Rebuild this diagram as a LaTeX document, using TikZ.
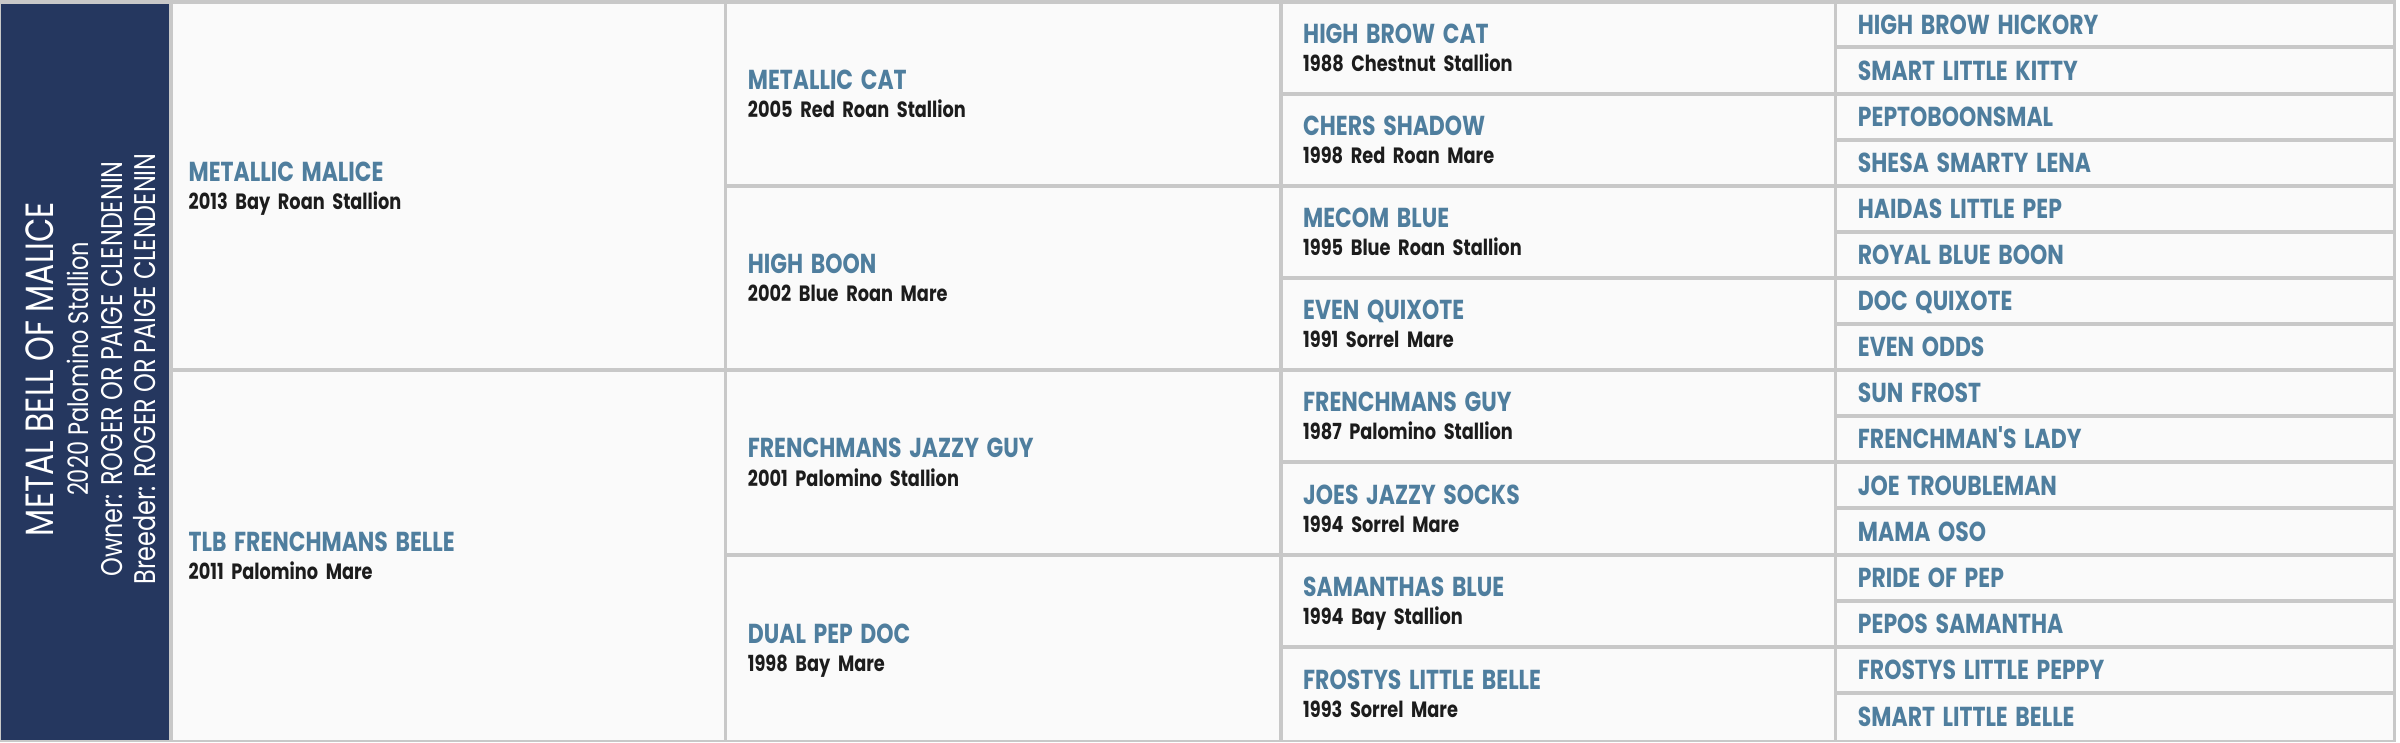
\documentclass[tikz,border=0pt]{standalone}
\usepackage{fontspec}
\usepackage{xcolor}
\usepackage{tikz}
\usetikzlibrary{positioning,calc}
\newfontfamily\namefont{Poppins}[FakeStretch=0.8]
\newfontfamily\sidefont{Poppins}[FakeStretch=0.8]
\definecolor{navy}{HTML}{25375F}
\definecolor{nameblue}{HTML}{4F7E9E}
\definecolor{descblack}{HTML}{1C1C1C}
\definecolor{linegrey}{HTML}{C8C8C8}
\definecolor{cellbg}{HTML}{FAFAFA}
\newcommand{\hname}[1]{{\namefont\bfseries\fontsize{7.8}{7.97}\selectfont\color{nameblue}\vphantom{H}\smash{#1}}}
\newcommand{\hdesc}[1]{{\namefont\bfseries\fontsize{6.3}{7.97}\selectfont\color{descblack}\smash{#1}}}
\newcommand{\horse}[2]{\hname{#1}\\\hdesc{#2}}
\tikzstyle{cell} = [rectangle, fill=cellbg, anchor=north west, inner ysep=0pt, align=left, font=\fontsize{6.5}{7.97}\selectfont]
\tikzstyle{sire} = [cell, inner xsep=0.16cm, text width=5.187cm]
\tikzstyle{gen} = [cell, inner xsep=0.205cm, text width=5.103cm]
\tikzstyle{far} = [cell, inner xsep=0.205cm, text width=5.143cm]
\tikzstyle{side} = [anchor=base, rotate=90, text=white, inner sep=0pt]

\begin{document}
\begin{tikzpicture}[x=0.01cm, y=-0.01cm]
    \useasboundingbox (0,0) rectangle (2400,742);
    \fill[linegrey] (0,0) rectangle (2396,742);

    % horse panel
    \node[rectangle, fill=navy, anchor=north west, inner sep=0pt, minimum width=1.68cm, minimum height=7.36cm] (panel) at (0,3) {};
    \node[side, font=\sidefont\fontsize{11.2}{12}\selectfont] (title) at (53,369) {METAL BELL OF MALICE};
    \node[side, font=\sidefont\fontsize{8}{10}\selectfont] (foal) at (88,369) {2020 Palomino Stallion};
    \node[side, font=\sidefont\fontsize{8.5}{10}\selectfont] (owner) at (122,369) {Owner: ROGER OR PAIGE CLENDENIN};
    \node[side, font=\sidefont\fontsize{8.5}{10}\selectfont] (breeder) at (155,369) {Breeder: ROGER OR PAIGE CLENDENIN};

    % parents
    \node[sire, minimum height=3.644cm] (s) at (172,3) {\horse{METALLIC MALICE}{2013 Bay Roan Stallion}};
    \node[sire, minimum height=3.676cm] (d) at (172,371.4) {\horse{TLB FRENCHMANS BELLE}{2011 Palomino Mare}};

    % grandparents
    \node[gen, minimum width=5.513cm, minimum height=1.80cm] (ss) at (726.7,3) {\horse{METALLIC CAT}{2005 Red Roan Stallion}};
    \node[gen, minimum width=5.513cm, minimum height=1.804cm] (sd) at (726.7,187.0) {\horse{HIGH BOON}{2002 Blue Roan Mare}};
    \node[gen, minimum width=5.513cm, minimum height=1.804cm] (ds) at (726.7,371.4) {\horse{FRENCHMANS JAZZY GUY}{2001 Palomino Stallion}};
    \node[gen, minimum width=5.513cm, minimum height=1.832cm] (dd) at (726.7,555.8) {\horse{DUAL PEP DOC}{1998 Bay Mare}};

    % great grandparents
    \node[gen, minimum height=0.878cm] (sss) at (1282,3) {\horse{HIGH BROW CAT}{1988 Chestnut Stallion}};
    \node[gen, minimum height=0.882cm] (ssd) at (1282,94.8) {\horse{CHERS SHADOW}{1998 Red Roan Mare}};
    \node[gen, minimum height=0.882cm] (sds) at (1282,187.0) {\horse{MECOM BLUE}{1995 Blue Roan Stallion}};
    \node[gen, minimum height=0.882cm] (sdd) at (1282,279.2) {\horse{EVEN QUIXOTE}{1991 Sorrel Mare}};
    \node[gen, minimum height=0.882cm] (dss) at (1282,371.4) {\horse{FRENCHMANS GUY}{1987 Palomino Stallion}};
    \node[gen, minimum height=0.882cm] (dsd) at (1282,463.6) {\horse{JOES JAZZY SOCKS}{1994 Sorrel Mare}};
    \node[gen, minimum height=0.882cm] (dds) at (1282,555.8) {\horse{SAMANTHAS BLUE}{1994 Bay Stallion}};
    \node[gen, minimum height=0.910cm] (ddd) at (1282,648.0) {\horse{FROSTYS LITTLE BELLE}{1993 Sorrel Mare}};

    % fourth generation
    \node[far, minimum height=0.417cm] (f1) at (1836.7,3) {\hname{HIGH BROW HICKORY}};
    \node[far, minimum height=0.421cm] (f2) at (1836.7,48.7) {\hname{SMART LITTLE KITTY}};
    \node[far, minimum height=0.421cm] (f3) at (1836.7,94.8) {\hname{PEPTOBOONSMAL}};
    \node[far, minimum height=0.421cm] (f4) at (1836.7,140.9) {\hname{SHESA SMARTY LENA}};
    \node[far, minimum height=0.421cm] (f5) at (1836.7,187.0) {\hname{HAIDAS LITTLE PEP}};
    \node[far, minimum height=0.421cm] (f6) at (1836.7,233.1) {\hname{ROYAL BLUE BOON}};
    \node[far, minimum height=0.421cm] (f7) at (1836.7,279.2) {\hname{DOC QUIXOTE}};
    \node[far, minimum height=0.421cm] (f8) at (1836.7,325.3) {\hname{EVEN ODDS}};
    \node[far, minimum height=0.421cm] (f9) at (1836.7,371.4) {\hname{SUN FROST}};
    \node[far, minimum height=0.421cm] (f10) at (1836.7,417.5) {\hname{FRENCHMAN'S LADY}};
    \node[far, minimum height=0.421cm] (f11) at (1836.7,463.6) {\hname{JOE TROUBLEMAN}};
    \node[far, minimum height=0.421cm] (f12) at (1836.7,509.7) {\hname{MAMA OSO}};
    \node[far, minimum height=0.421cm] (f13) at (1836.7,555.8) {\hname{PRIDE OF PEP}};
    \node[far, minimum height=0.421cm] (f14) at (1836.7,601.9) {\hname{PEPOS SAMANTHA}};
    \node[far, minimum height=0.421cm] (f15) at (1836.7,648.0) {\hname{FROSTYS LITTLE PEPPY}};
    \node[far, minimum height=0.449cm] (f16) at (1836.7,694.1) {\hname{SMART LITTLE BELLE}};
\end{tikzpicture}
\end{document}
